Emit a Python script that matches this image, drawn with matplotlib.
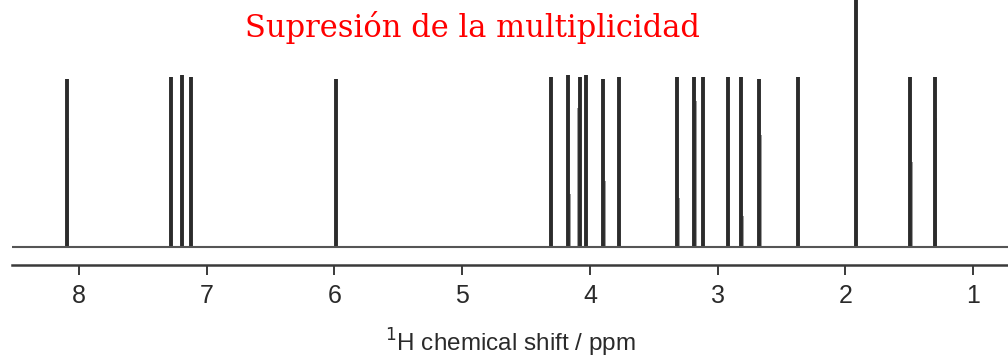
import matplotlib.pyplot as plt

# Decoupled 1H spectrum: one line per proton environment
shifts = [8.096, 7.280, 7.194, 7.123, 5.988, 4.305, 4.170, 4.081, 4.034, 3.896,
          3.771, 3.321, 3.183, 3.113, 2.917, 2.820, 2.679, 2.374, 1.918, 1.495, 1.299]
heights = [0.99, 1.00, 1.01, 1.00, 0.99, 1.00, 1.01, 1.00, 1.01, 0.99,
           1.00, 1.00, 1.00, 1.00, 1.00, 1.00, 0.99, 1.00, 1.60, 1.00, 1.00]

# weaker overlapping lines sitting next to some of the main ones
shoulder_shifts = [8.085, 4.158, 4.092, 3.885, 3.300, 3.170, 2.805, 2.665, 1.480, 1.290]
shoulder_heights = [0.64, 0.31, 0.82, 0.39, 0.29, 0.86, 0.18, 0.66, 0.50, 0.76]

ticks = [8, 7, 6, 5, 4, 3, 2, 1]

fig = plt.figure(figsize=(10.08, 3.58), dpi=100)
ax = fig.add_axes([12 / 1008, 93 / 358, 996 / 1008, 265 / 358])

ink = '#2b2b2b'
ax.vlines(shoulder_shifts, 0, shoulder_heights, color='#8a8a8a', lw=1.2)
ax.vlines(shifts, 0, heights, color=ink, lw=2.8)
ax.axhline(0, color='#555555', lw=1.5)

ax.set_xlim(8.524, 0.728)
ax.set_ylim(-0.106, 1.453)

for s in ['left', 'right', 'top']:
    ax.spines[s].set_visible(False)
ax.spines['bottom'].set_color('#3a3a3a')
ax.spines['bottom'].set_linewidth(1.8)
ax.set_yticks([])
ax.set_xticks(ticks)
ax.set_xticklabels([str(t) for t in ticks], family='Liberation Sans', fontsize=18,
                   color='#2a2a2a')
ax.tick_params(axis='x', direction='out', length=7, width=1.4, color='#3a3a3a', pad=7)

ax.set_xlabel('$^{1}$H chemical shift / ppm', family='Liberation Sans', fontsize=17.5,
              color='#2a2a2a', labelpad=13)

fig.text(472 / 1008, 1 - 27 / 358, 'Supresión de la multiplicidad', color='red',
         family='DejaVu Serif', fontsize=22, ha='center', va='center')

fig.savefig('out.png', dpi=100)
